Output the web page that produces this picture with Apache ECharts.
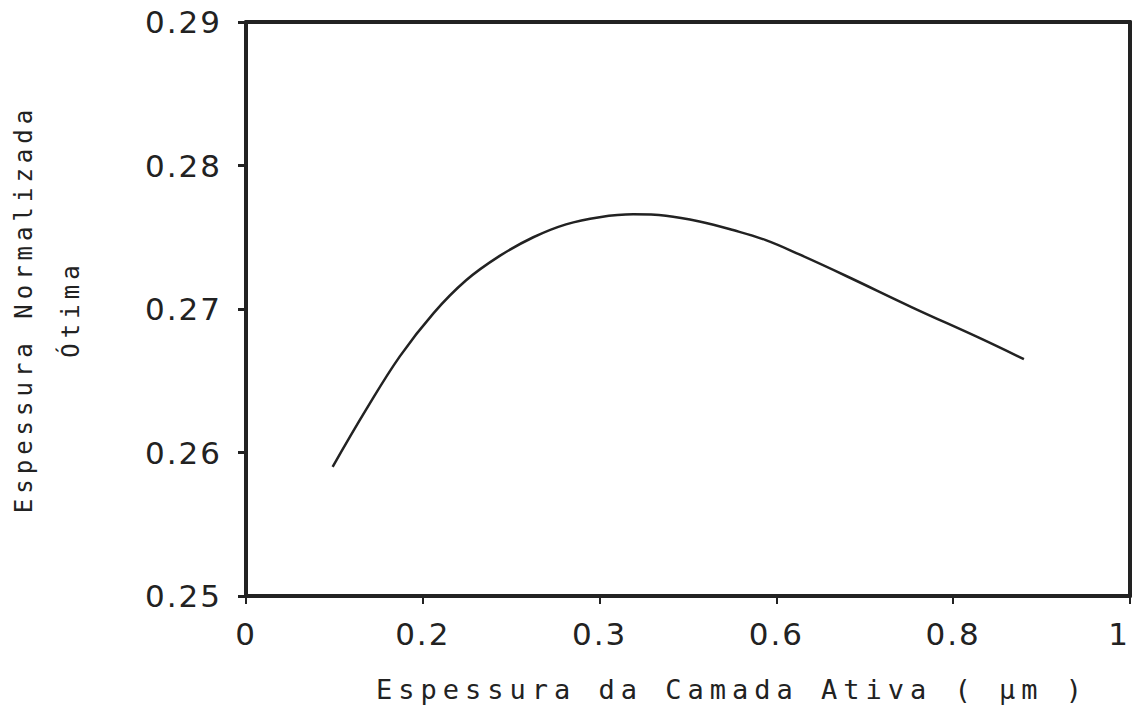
<!DOCTYPE html>
<html>
<head>
<meta charset="utf-8">
<script src="https://cdn.jsdelivr.net/npm/echarts@6/dist/echarts.min.js"></script>
<style>
  html, body { margin: 0; padding: 0; background: #fff; }
  #chart { width: 1136px; height: 715px; }
</style>
</head>
<body>
<div id="chart"></div>
<script>
// ---- data ----
const thickness = [0.098, 0.136, 0.174, 0.212, 0.249, 0.287, 0.325, 0.362, 0.400, 0.438, 0.475, 0.513, 0.551, 0.588, 0.626, 0.679, 0.754, 0.829, 0.880];
const optThickness = [0.2590, 0.2630, 0.2667, 0.2697, 0.2720, 0.2737, 0.2750, 0.2759, 0.2764, 0.2766, 0.2765, 0.2761, 0.2755, 0.2748, 0.2738, 0.2723, 0.2701, 0.2680, 0.2665];
const xTickValues = [0, 0.2, 0.4, 0.6, 0.8, 1];
const xTickLabels = ['0', '0.2', '0.3', '0.6', '0.8', '1'];
const yTickLabels = ['0.25', '0.26', '0.27', '0.28', '0.29'];
const xTitle = 'Espessura da Camada Ativa ( µm )';
const yTitle = 'Espessura Normalizada\nÓtima';

const ink = '#222';
const chart = echarts.init(document.getElementById('chart'), null, { renderer: 'svg' });

const seriesData = thickness.map((x, i) => [x, optThickness[i]]);

chart.setOption({
  animation: false,
  backgroundColor: '#fff',
  grid: { left: 246, right: 6, top: 22, bottom: 119, containLabel: false, outerBoundsMode: 'none' },
  xAxis: [{
    type: 'value', min: 0, max: 1, interval: 0.2, position: 'bottom',
    name: xTitle, nameLocation: 'middle', nameGap: 80,
    nameTextStyle: { fontFamily: 'DejaVu Sans Mono', fontSize: 27, color: ink, padding: [0, 0, 0, 88] },
    axisLine: { show: true, lineStyle: { color: ink, width: 4 } },
    axisTick: { show: true, length: 8, lineStyle: { color: ink, width: 2 } },
    splitLine: { show: false },
    axisLabel: {
      margin: 22, fontFamily: 'DejaVu Sans', fontSize: 31, color: ink,
      alignMaxLabel: 'right',
      formatter: function (v) {
        const i = xTickValues.findIndex(t => Math.abs(t - v) < 1e-6);
        return i >= 0 ? xTickLabels[i] : '';
      }
    }
  }, {
    type: 'value', min: 0, max: 1, position: 'top',
    axisLine: { show: true, onZero: false, lineStyle: { color: ink, width: 4 } },
    axisTick: { show: false }, axisLabel: { show: false }, splitLine: { show: false }
  }],
  yAxis: [{
    type: 'value', min: 0.25, max: 0.29, interval: 0.01, position: 'left',
    name: yTitle, nameLocation: 'middle', nameGap: 152, nameRotate: 90,
    nameTextStyle: { fontFamily: 'DejaVu Sans Mono', fontSize: 24, color: ink, lineHeight: 47, align: 'center' },
    axisLine: { show: true, lineStyle: { color: ink, width: 4 } },
    axisTick: { show: true, length: 8, lineStyle: { color: ink, width: 3 } },
    splitLine: { show: false },
    axisLabel: {
      margin: 24, fontFamily: 'DejaVu Sans', fontSize: 31, color: ink,
      formatter: function (v) {
        const i = Math.round((v - 0.25) / 0.01);
        return yTickLabels[i] !== undefined ? yTickLabels[i] : '';
      }
    }
  }, {
    type: 'value', min: 0.25, max: 0.29, position: 'right',
    axisLine: { show: true, onZero: false, lineStyle: { color: ink, width: 4 } },
    axisTick: { show: false }, axisLabel: { show: false }, splitLine: { show: false }
  }],
  series: [{
    type: 'line',
    data: seriesData,
    smooth: 0.4,
    showSymbol: false,
    lineStyle: { color: ink, width: 2.5 },
    xAxisIndex: 0, yAxisIndex: 0
  }]
});

// widen the lettering of the axis titles like the typewriter-style original
function spaceTitles() {
  document.querySelectorAll('#chart svg text').forEach(t => {
    const s = t.textContent || '';
    if (s.indexOf('Camada') >= 0) t.style.letterSpacing = '6px';
    else if (s.indexOf('Normalizada') >= 0 || s.indexOf('tima') >= 0) t.style.letterSpacing = '5px';
    else if (/^\d/.test(s)) t.style.letterSpacing = '2px';
  });
}
spaceTitles();
chart.on('finished', spaceTitles);
setTimeout(spaceTitles, 50);
</script>
</body>
</html>
